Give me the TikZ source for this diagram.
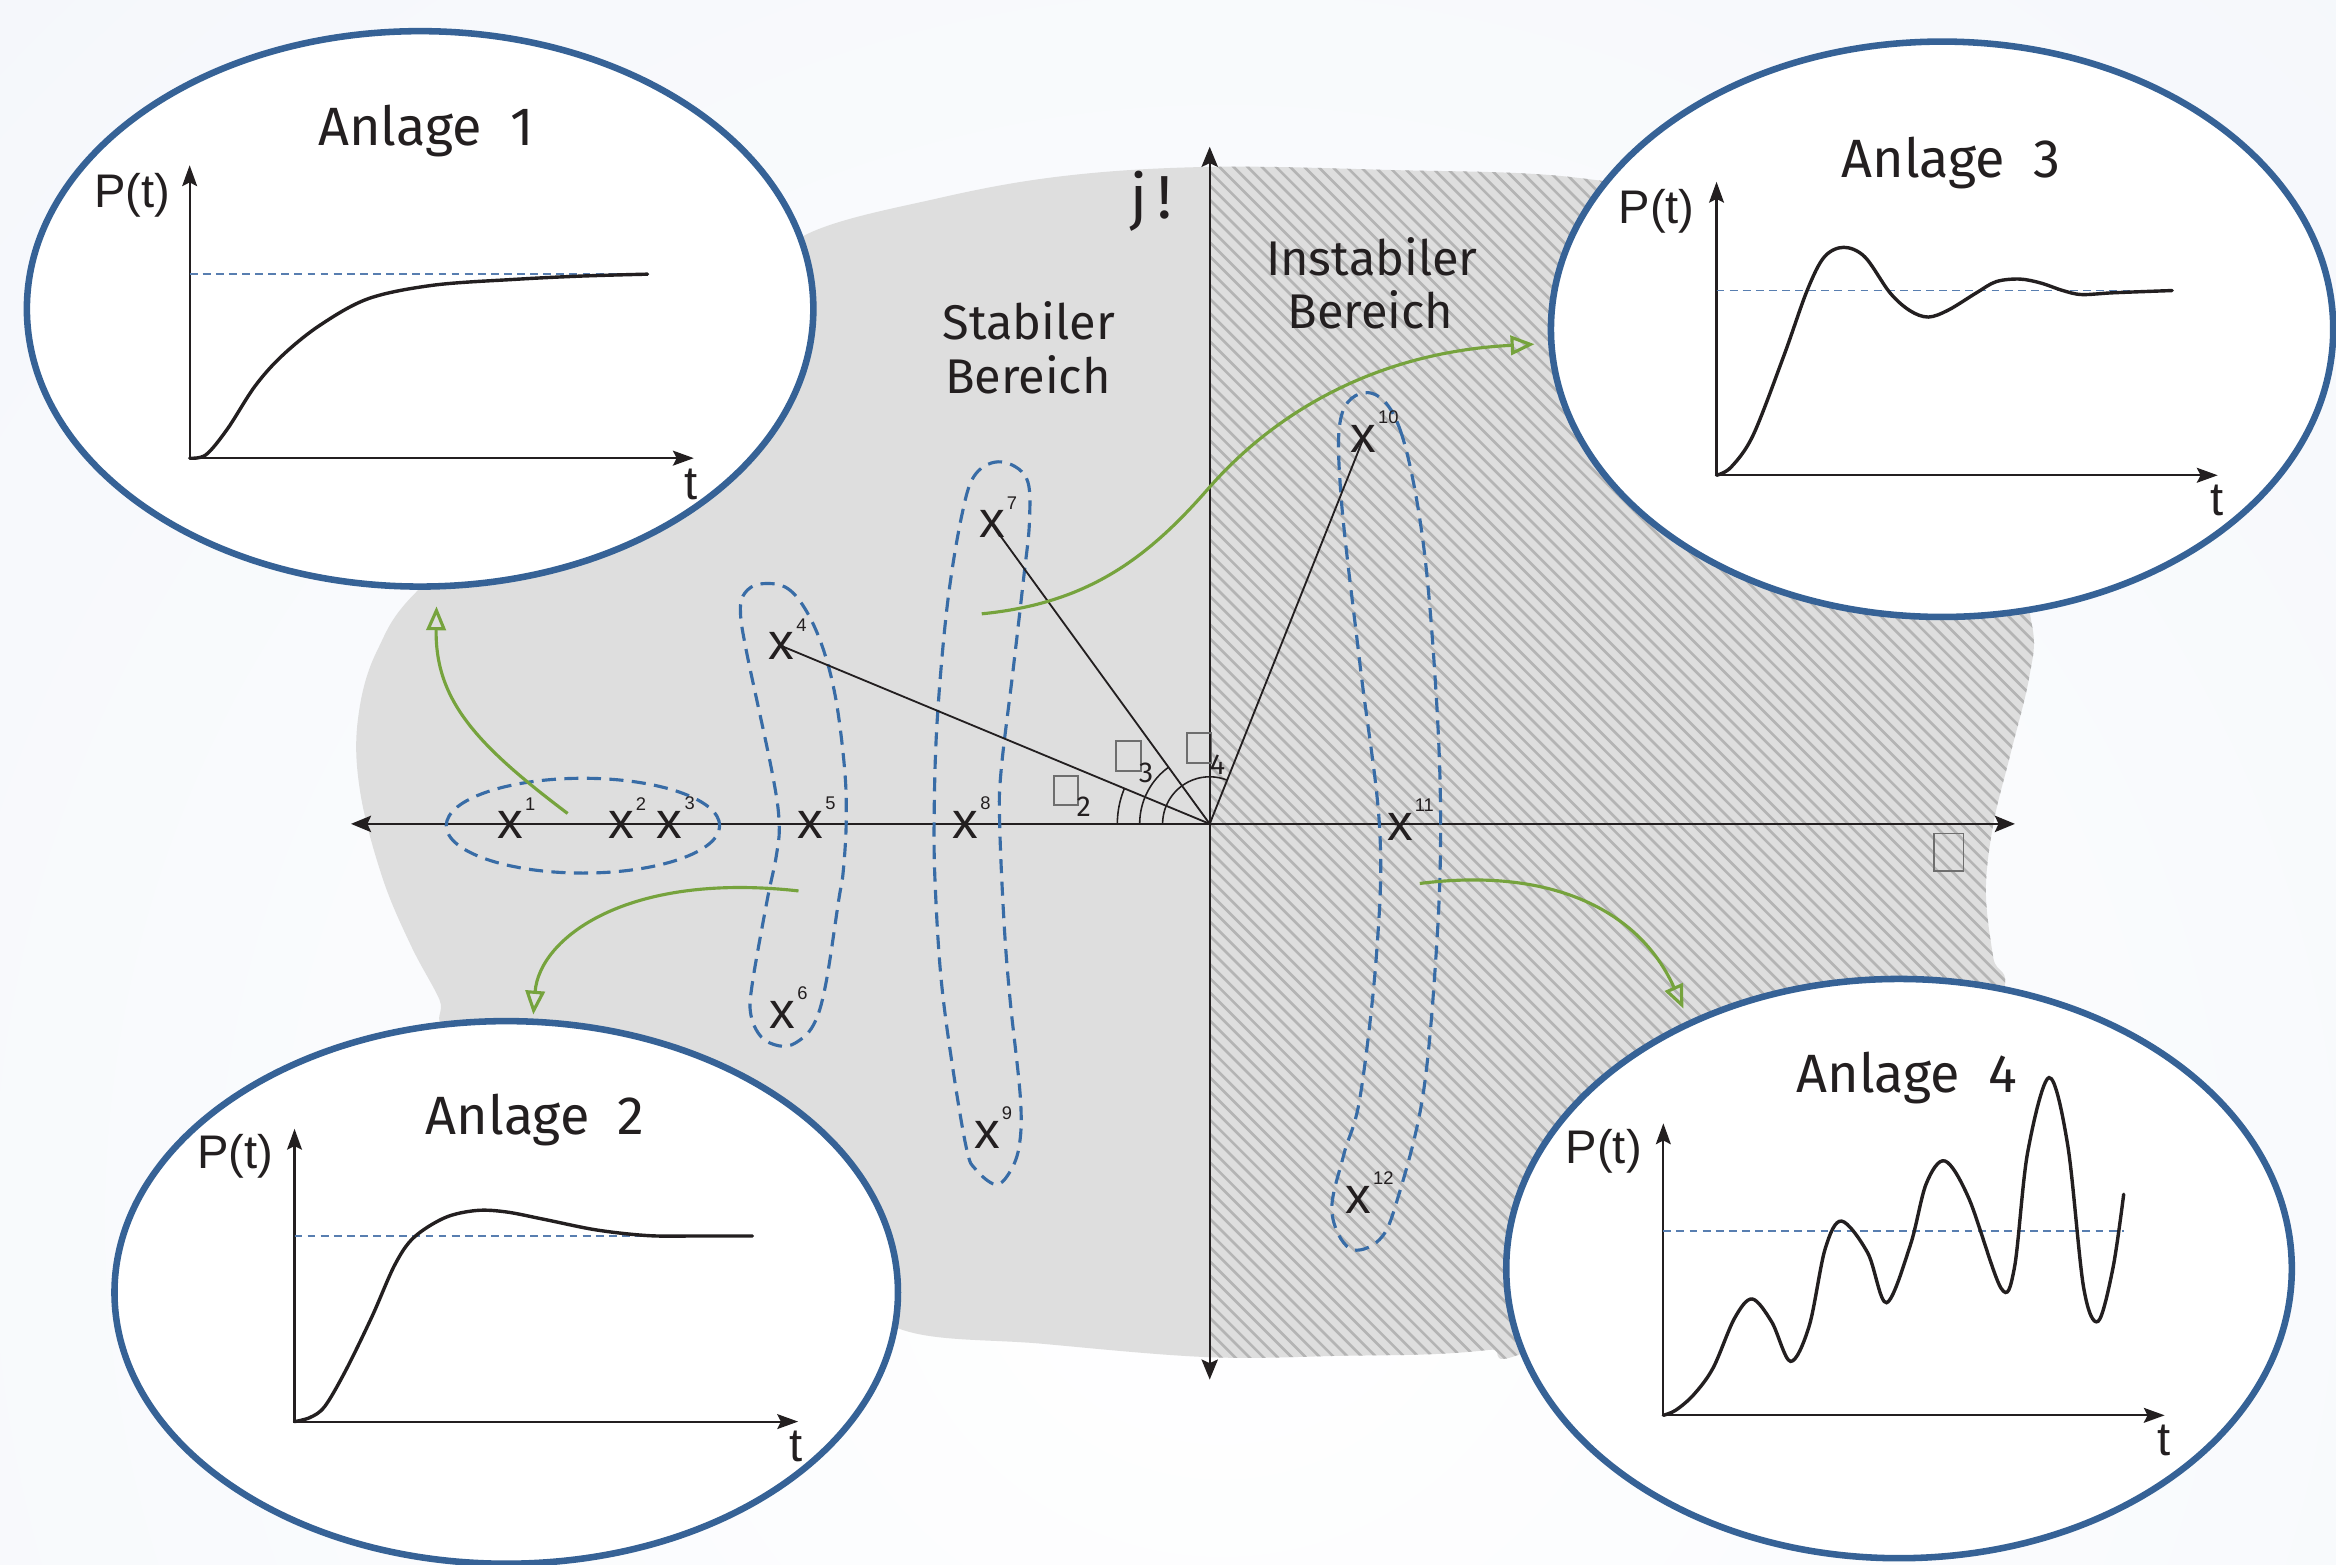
\documentclass[tikz,border=0pt]{standalone}
\usepackage{fontspec}
\setmainfont{Fira Sans}
\newfontfamily\arialfont{Liberation Sans}
\usetikzlibrary{arrows.meta,shapes.geometric}

\definecolor{bgtint}{RGB}{242,245,250}
\definecolor{regiongray}{RGB}{222,222,222}
\definecolor{hatchgray}{RGB}{180,180,180}
\definecolor{plantblue}{RGB}{54,98,150}
\definecolor{groupblue}{RGB}{56,108,166}
\definecolor{refblue}{RGB}{88,126,176}
\definecolor{flowgreen}{RGB}{118,163,61}
\definecolor{ink}{RGB}{35,31,32}
\definecolor{boxgray}{RGB}{110,110,110}

\tikzset{
  plant/.style={draw=plantblue, line width=1.25pt, fill=white, ellipse, inner sep=0pt},
  plantname/.style={font=\fontsize{10.3}{12}\selectfont, text=ink, inner sep=0pt, anchor=base},
  regionname/.style={font=\fontsize{9.3}{11}\selectfont, text=ink, inner sep=0pt, anchor=base},
  imagname/.style={font=\fontsize{11.6}{13}\selectfont, text=ink, inner sep=0pt, anchor=base},
  axisname/.style={font=\arialfont\fontsize{9}{10}\selectfont, text=ink, inner sep=0pt},
  pole/.style={font=\arialfont\fontsize{9.8}{11}\selectfont, text=ink, inner sep=0pt},
  poleidx/.style={font=\arialfont\fontsize{3.5}{4}\selectfont, text=ink, inner sep=0pt},
  mainaxis/.style={draw=ink, line width=0.4pt,
    {Stealth[length=0.135cm,width=0.11cm,inset=0.025cm]}-{Stealth[length=0.135cm,width=0.11cm,inset=0.025cm]}},
  graphaxis/.style={draw=ink, line width=0.4pt,
    {Stealth[length=0.14cm,width=0.1cm,inset=0.025cm]}-{Stealth[length=0.14cm,width=0.1cm,inset=0.025cm]}},
  hatchline/.style={draw=hatchgray, line width=0.5pt},
  polegroup/.style={draw=groupblue, line width=0.6pt, dash pattern=on 2.7pt off 1.6pt},
  response/.style={draw=ink, line width=0.65pt, line cap=round},
  setpoint/.style={draw=refblue, line width=0.35pt, dash pattern=on 1.5pt off 1pt},
  polar/.style={draw=ink, line width=0.35pt},
  anglearc/.style={draw=ink, line width=0.3pt},
  anglebox/.style={draw=boxgray, line width=0.3pt, inner sep=0pt},
  boxdigit/.style={font=\fontsize{5.5}{6}\selectfont, text=ink, inner sep=0pt},
  flow/.style={draw=flowgreen, line width=0.6pt,
    -{Triangle[open,length=0.16cm,width=0.13cm]}},
}

\def\regionoutline{plot[smooth cycle, tension=0.6] coordinates {
  (540,158) (630,133) (715,118) (812,112) (930,114) (1056,119) (1150,140)
  (1250,200) (1345,370) (1364,420) (1362,455) (1349,508) (1338,553)
  (1333,598) (1338,643) (1344,668) (1300,760) (1040,900) (1000,906)
  (960,909) (903,910) (812,911) (700,902) (604,892) (560,850) (350,700)
  (299,689) (295,671) (276,635) (257,590) (242,533) (240,485) (253,437)
  (287,390) (400,300) (500,200)}}

\begin{document}
\begin{tikzpicture}[x=0.01cm, y=-0.01cm]
\useasboundingbox (0,0) rectangle (1568,1050);

% page tint
\fill[bgtint] (0,0) rectangle (1568,1050);
\begin{scope}
  \clip (0,0) rectangle (1568,1050);
  \shade[inner color=white, outer color=bgtint] (820,820) circle (1500);
\end{scope}

% s-plane region and hatched right half-plane
\fill[regiongray] \regionoutline;
\begin{scope}
  \clip \regionoutline;
  \clip (812,0) rectangle (1568,1050);
  \foreach \a in {-20,-10.5,...,1370}
    \draw[hatchline] (\a,100) -- ++(830,830);
\end{scope}

% axes of the s-plane
\coordinate (O) at (812,553);
\coordinate (axL) at (235.6,553);
\coordinate (axR) at (1352.5,553);
\coordinate (axT) at (812,98.5);
\coordinate (axB) at (812,926);
\draw[mainaxis] (axL) -- (axR);
\draw[mainaxis] (axB) -- (axT);

\node[imagname] (jw) at (772.6,146.6) {j\hspace{0.16em}!};
\node[regionname] (stab1) at (690.5,228.2) {Stabiler};
\node[regionname] (stab2) at (690,263.8) {Bereich};
\node[regionname] (inst1) at (920.8,184.6) {Instabiler};
\node[regionname] (inst2) at (920,220.4) {Bereich};

% pole groups
\node[polegroup, ellipse, minimum width=1.834cm, minimum height=0.636cm, inner sep=0pt] (grpA) at (391.3,554.2) {};
\draw[polegroup] plot[smooth cycle, tension=0.6] coordinates {
  (510,392) (527,394) (540,408) (552,434) (561,469) (567,517) (568,552)
  (566,585) (563,604) (554,662) (546,688) (534,700) (523,702) (511,696)
  (504,681) (505,660) (515,604) (521,575) (523,552) (518,517) (501,437)
  (497,410) (500,398)};
\draw[polegroup] plot[smooth cycle, tension=0.6] coordinates {
  (672,310) (689,321) (691,350) (687,389) (680,450) (672,517) (671,552)
  (674,620) (678,671) (685,738) (684,770) (677,788) (668,795) (655,785)
  (649,772) (640,720) (632,660) (628,600) (627,552) (629,485) (636,405)
  (646,344) (655,318)};
\draw[polegroup] plot[smooth cycle, tension=0.6] coordinates {
  (921,264) (940,289) (955,362) (964,466) (967,555) (964,640) (955,736)
  (938,805) (926,832) (906,838) (894,813) (902,775) (913,736) (924,640)
  (926,555) (913,447) (900,331) (901,277)};

% poles
\coordinate (c4) at (524.6,433.6);
\coordinate (c7) at (665.9,352);
\coordinate (c10) at (915,294.7);
\draw[polar] (O) -- (c4);
\draw[polar] (O) -- (c7);
\draw[polar] (O) -- (c10);
\draw[anglearc] plot[domain=157.4:180, samples=30] ({812+62*cos(\x)},{553-62*sin(\x)});
\draw[anglearc] plot[domain=126:180, samples=40] ({812+47*cos(\x)},{553-47*sin(\x)});
\draw[anglearc] plot[domain=68.3:180, samples=60] ({812+31.6*cos(\x)},{553-31.6*sin(\x)});

\node[pole, label={[poleidx]above right:1}] (p1) at (342.5,553.8) {x};
\node[pole, label={[poleidx]above right:2}] (p2) at (416.8,553.8) {x};
\node[pole, label={[poleidx]above right:3}] (p3) at (449.6,553.8) {x};
\node[pole, label={[poleidx]above right:4}] (p4) at (c4) {x};
\node[pole, label={[poleidx]above right:5}] (p5) at (544,553.8) {x};
\node[pole, label={[poleidx]above right:6}] (p6) at (525.2,681) {x};
\node[pole, label={[poleidx]above right:7}] (p7) at (c7) {x};
\node[pole, label={[poleidx]above right:8}] (p8) at (648,553.8) {x};
\node[pole, label={[poleidx]above right:9}] (p9) at (662.5,761.8) {x};
\node[pole, label={[poleidx]above right:10}] (p10) at (c10) {x};
\node[pole, label={[poleidx]above right:11}] (p11) at (939.7,555) {x};
\node[pole, label={[poleidx]above right:12}] (p12) at (911.7,805.2) {x};

% angle markers
\node[anglebox, minimum width=0.16cm, minimum height=0.195cm] (phi2) at (715.5,530.5) {};
\node[boxdigit] (phi2n) at (727.5,541.4) {2};
\node[anglebox, minimum width=0.17cm, minimum height=0.2cm] (phi3) at (757.5,507.5) {};
\node[boxdigit] (phi3n) at (769.3,518.8) {3};
\node[anglebox, minimum width=0.165cm, minimum height=0.2cm] (phi4) at (805,502) {};
\node[boxdigit] (phi4n) at (817.2,513.5) {4};
\node[anglebox, minimum width=0.2cm, minimum height=0.25cm] (sigbox) at (1308,572) {};

% plant response windows
\node[plant, minimum width=5.276cm, minimum height=3.726cm] (plant1) at (282,207.3) {};
\node[plant, minimum width=5.256cm, minimum height=3.64cm] (plant2) at (339.8,867.5) {};
\node[plant, minimum width=5.248cm, minimum height=3.86cm] (plant3) at (1303.6,221) {};
\node[plant, minimum width=5.27cm, minimum height=3.886cm] (plant4) at (1274.7,851.5) {};

% links from pole groups to the plants
\coordinate (f1s) at (381,546);  \coordinate (f1e) at (293,407);
\coordinate (f2s) at (536,598);  \coordinate (f2e) at (358,681);
\coordinate (f3s) at (659,412);  \coordinate (f3m) at (811,328); \coordinate (f3e) at (1030,231);
\coordinate (f4s) at (953,593);  \coordinate (f4e) at (1130,677);
\draw[flow] (f1s) .. controls (320,500) and (292,470) .. (f1e);
\draw[flow] (f2s) .. controls (420,585) and (362,630) .. (f2e);
\draw[flow] (f3s) .. controls (730,405) and (770,375) .. (f3m)
               .. controls (860,272) and (930,236) .. (f3e);
\draw[flow] (f4s) .. controls (1040,582) and (1100,610) .. (f4e);

% ---- Anlage 1
\node[plantname] (n1) at (286,97.6) {Anlage\ \ 1};
\coordinate (g1o) at (127.3,307.5);
\coordinate (g1y) at (127.3,110.9);
\coordinate (g1x) at (465.7,307.5);
\draw[graphaxis] (g1y) -- (g1o) -- (g1x);
\node[axisname] (g1p) at (88.6,131) {P(t)};
\node[axisname] (g1t) at (464,325) {t};
\draw[setpoint] (127.3,184) -- (434.7,184);
\draw[response] plot[smooth, tension=0.55] coordinates {
  (127.3,307.5) (138.3,305.2) (152.8,287.7) (171,259.4) (189.2,238.9)
  (214.6,218.4) (247.4,200.4) (291,191.4) (345.6,187.5) (390,185.3) (434.7,184)};

% ---- Anlage 2
\node[plantname] (n2) at (359.3,761.8) {Anlage\ \ 2};
\coordinate (g2o) at (197.7,954.2);
\coordinate (g2y) at (197.7,757.7);
\coordinate (g2x) at (535.7,954.2);
\draw[graphaxis] (g2y) -- (g2o) -- (g2x);
\node[axisname] (g2p) at (158,776) {P(t)};
\node[axisname] (g2t) at (534,970.6) {t};
\draw[setpoint] (197.7,829.6) -- (505,829.6);
\draw[response] plot[smooth, tension=0.55] coordinates {
  (197.7,954.2) (208,951.5) (218,944) (232,920) (249.7,883.7) (265,849)
  (277.8,830.6) (298.7,817.3) (319.9,812.5) (340,813.5) (365.5,818.5)
  (400.6,825.6) (435.6,829.4) (470,829.6) (505,829.6)};

% ---- Anlage 3
\node[plantname] (n3) at (1309.7,119) {Anlage\ \ 3};
\coordinate (g3o) at (1152.2,319);
\coordinate (g3y) at (1152.2,122);
\coordinate (g3x) at (1488.6,319);
\draw[graphaxis] (g3y) -- (g3o) -- (g3x);
\node[axisname] (g3p) at (1112,142) {P(t)};
\node[axisname] (g3t) at (1488,335.6) {t};
\draw[setpoint] (1152.2,195) -- (1458,195);
\draw[response] plot[smooth, tension=0.55] coordinates {
  (1152.2,319) (1162,313.5) (1176.8,292) (1197.3,239) (1213,195)
  (1224.5,172.5) (1237.6,166) (1251.8,172.5) (1268.6,196.5) (1282,208.5)
  (1294.4,212.8) (1308,208) (1326.7,196.5) (1340,189) (1355.7,187.3)
  (1370,190) (1384.6,195) (1397.4,197.7) (1418.7,196.5) (1458,195)};

% ---- Anlage 4
\node[plantname] (n4) at (1280,733.5) {Anlage\ \ 4};
\coordinate (g4o) at (1116.5,950);
\coordinate (g4y) at (1116.5,754);
\coordinate (g4x) at (1453,950);
\draw[graphaxis] (g4y) -- (g4o) -- (g4x);
\node[axisname] (g4p) at (1076.5,773) {P(t)};
\node[axisname] (g4t) at (1452.3,967) {t};
\draw[setpoint] (1116.5,826) -- (1425.5,826);
\draw[response] plot[smooth, tension=0.55] coordinates {
  (1116.5,950) (1124.9,946.5) (1137,936) (1150,918) (1164.3,884.8)
  (1176.1,871.9) (1189.3,887.4) (1201.9,913.8) (1214.4,890) (1225.1,838.3)
  (1236.1,819.6) (1253.7,841) (1266.3,874.4) (1282.3,835.7) (1293,794.4)
  (1305.6,779.3) (1321.7,804.7) (1343.2,864.7) (1352.1,851.2) (1361,773.7)
  (1375.4,723.3) (1387.9,768.5) (1398.6,864.2) (1408.3,886.9) (1418.3,851.1)
  (1425.5,801.6)};

\end{tikzpicture}
\end{document}
